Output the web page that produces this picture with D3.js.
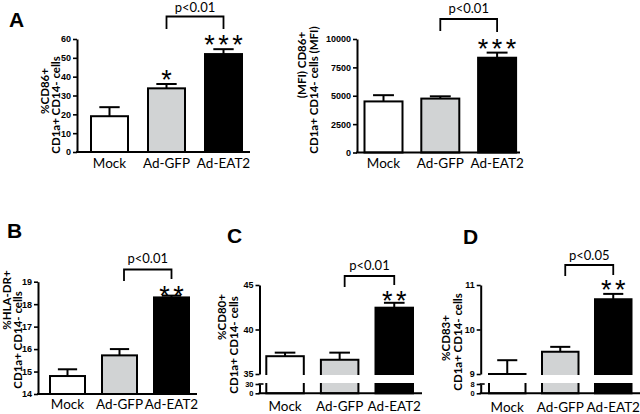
<!DOCTYPE html>
<html><head><meta charset="utf-8">
<script src="https://cdn.jsdelivr.net/npm/d3@7"></script>
<style>body{margin:0;background:#fff}</style>
</head><body><svg id="c" width="640" height="414" xmlns="http://www.w3.org/2000/svg"></svg>
<script>
// ---------- data ----------
const categories = ["Mock", "Ad-GFP", "Ad-EAT2"];
const cd86Pct = [19.0, 33.8, 52.0];
const cd86PctErr = [4.8, 2.3, 2.6];
const cd86Mfi = [4500, 4750, 8350];
const cd86MfiErr = [550, 200, 450];
const hlaDrPct = [14.8, 15.72, 18.3];
const hlaDrPctErr = [0.3, 0.28, 0.08];
const cd80Pct = [37.0, 36.6, 42.45];
const cd80PctErr = [0.4, 0.8, 0.55];
const cd83Pct = [9.0, 9.5, 10.68];
const cd83PctErr = [0.31, 0.11, 0.12];

const ticksCd86Pct = [0, 10, 20, 30, 40, 50, 60];
const ticksCd86Mfi = [0, 2500, 5000, 7500, 10000];
const ticksHlaDr = [14, 15, 16, 17, 18, 19];
const ticksCd80Upper = [35, 40, 45];
const ticksCd80Lower = [0, 30];
const ticksCd83Upper = [9, 10, 11];
const ticksCd83Lower = [0, 8];

const starsCd86Pct = ["", "*", "***"];
const starsCd86Mfi = ["", "", "***"];
const starsHlaDr = ["", "", "**"];
const starsCd80 = ["", "", "**"];
const starsCd83 = ["", "", "**"];

const pCd86Pct = "p<0.01";
const pCd86Mfi = "p<0.01";
const pHlaDr = "p<0.01";
const pCd80 = "p<0.01";
const pCd83 = "p<0.05";

const barColors = ["#ffffff", "#d1d3d4", "#000000"];

// ---------- layout ----------
const svg = d3.select("#c");
const CAT_FONT = "Lato, 'Open Sans', sans-serif";
const BOLD_FONT = "'Liberation Sans', Arial, sans-serif";

const panels = [
  { letter: "A", lx: 9, ly: 27,
    values: cd86Pct, errs: cd86PctErr, stars: starsCd86Pct, p: pCd86Pct, ticks: ticksCd86Pct,
    domain: [0, 60], yRange: [152, 39], axisX: 77, axisEnd: 250,
    barStart: 91, step: 57, bw: 37, catY: 168, starGap: 10,
    bracket: { y: 16.5, legL: 29, legR: 29, offL: 0, textBase: 12 },
    titles: [{ t: "%CD86+", x: 44, y: 91 }, { t: "CD1a+ CD14- cells", x: 55.5, y: 105 }] },
  { letter: null,
    values: cd86Mfi, errs: cd86MfiErr, stars: starsCd86Mfi, p: pCd86Mfi, ticks: ticksCd86Mfi,
    domain: [0, 10000], yRange: [152.5, 39], axisX: 357, axisEnd: 520,
    barStart: 364.5, step: 56.8, bw: 38, catY: 168, starGap: 10,
    bracket: { y: 19, legL: 31, legR: 32, offL: 0, textBase: 13 },
    titles: [{ t: "(MFI) CD86+", x: 301, y: 65 }, { t: "CD1a+ CD14- cells (MFI)", x: 313, y: 90 }] },
  { letter: "B", lx: 7, ly: 238,
    values: hlaDrPct, errs: hlaDrPctErr, stars: starsHlaDr, p: pHlaDr, ticks: ticksHlaDr,
    domain: [14, 19], yRange: [394, 281.7], axisX: 38, axisEnd: 197,
    barStart: 50, step: 52, bw: 35, catY: 409, starGap: 6,
    bracket: { y: 269.5, legL: 281, legR: 279, offL: 4.5, textBase: 263 },
    titles: [{ t: "%HLA-DR+", x: 6.5, y: 300 }, { t: "CD1a+ CD14- cells", x: 17.5, y: 340 }] },
  { letter: "C", lx: 227, ly: 243,
    values: cd80Pct, errs: cd80PctErr, stars: starsCd80, p: pCd80,
    broken: { upper: [35, 45], upperRange: [374, 285], lower: [0, 30], lowerRange: [393.3, 384],
              ticksU: ticksCd80Upper, ticksL: ticksCd80Lower, gap: [375, 383] },
    axisX: 259.5, axisEnd: 422,
    barStart: 266.3, step: 54.6, bw: 37.5, catY: 411, starGap: 8,
    bracket: { y: 276, legL: 287, legR: 285, offL: 5, textBase: 270 },
    titles: [{ t: "%CD80+", x: 221, y: 317 }, { t: "CD1a+ CD14- cells", x: 233, y: 345 }] },
  { letter: "D", lx: 463, ly: 244,
    values: cd83Pct, errs: cd83PctErr, stars: starsCd83, p: pCd83,
    broken: { upper: [9, 11], upperRange: [374, 285], lower: [0, 8], lowerRange: [393.3, 384],
              ticksU: ticksCd83Upper, ticksL: ticksCd83Lower, gap: [375, 383] },
    axisX: 480.7, axisEnd: 640,
    barStart: 489, step: 53, bw: 36.5, catY: 412, starGap: 10,
    bracket: { y: 265, legL: 276, legR: 275, offL: 5, textBase: 260 },
    titles: [{ t: "%CD83+", x: 445.5, y: 338 }, { t: "CD1a+ CD14- cells", x: 457.5, y: 342 }] }
];

function styleAxis(sel, fs) {
  sel.select(".domain").attr("stroke", "#000").attr("stroke-width", 2);
  sel.selectAll(".tick line").attr("stroke", "#000").attr("stroke-width", 1.6);
  sel.selectAll(".tick text").attr("font-family", BOLD_FONT).attr("font-weight", "bold")
     .attr("font-size", fs).attr("fill", "#000");
}

function drawPanel(cfg) {
  const g = svg.append("g");
  const n = categories.length;
  const pad = 1 - cfg.bw / cfg.step;
  const r0 = cfg.barStart - pad * cfg.step;
  const x = d3.scaleBand().domain(categories).range([r0, r0 + (n + pad) * cfg.step]).padding(pad);

  let yOf, baseY, yU, yL, y;
  if (cfg.broken) {
    const b = cfg.broken;
    yU = d3.scaleLinear().domain(b.upper).range(b.upperRange);
    yL = d3.scaleLinear().domain(b.lower).range(b.lowerRange);
    yOf = v => (v >= b.upper[0] ? yU(v) : yL(v));
    baseY = yL(0);
  } else {
    y = d3.scaleLinear().domain(cfg.domain).range(cfg.yRange);
    yOf = y;
    baseY = y(cfg.domain[0]);
  }

  const rows = categories.map((c, i) => ({ c, i, v: cfg.values[i], e: cfg.errs[i], s: cfg.stars[i] }));

  // bars
  g.selectAll("rect.bar").data(rows).join("rect").attr("class", "bar")
    .attr("x", d => x(d.c)).attr("width", x.bandwidth())
    .attr("y", d => yOf(d.v)).attr("height", d => baseY - yOf(d.v))
    .attr("fill", d => barColors[d.i]).attr("stroke", "#000").attr("stroke-width", 2);

  // axis break band
  if (cfg.broken) {
    const b = cfg.broken;
    g.append("rect").attr("x", x(categories[0]) - 3)
      .attr("width", x(categories[n - 1]) + x.bandwidth() - x(categories[0]) + 6)
      .attr("y", b.gap[0]).attr("height", b.gap[1] - b.gap[0]).attr("fill", "#fff");
  }

  // error bars
  const cap = x.bandwidth() * 0.55;
  const eb = g.selectAll("g.err").data(rows).join("g").attr("class", "err")
    .attr("stroke", "#000").attr("stroke-width", 2);
  eb.append("line")
    .attr("x1", d => x(d.c) + x.bandwidth() / 2).attr("x2", d => x(d.c) + x.bandwidth() / 2)
    .attr("y1", d => yOf(d.v)).attr("y2", d => yOf(d.v + d.e));
  eb.append("line")
    .attr("x1", d => x(d.c) + x.bandwidth() / 2 - cap / 2).attr("x2", d => x(d.c) + x.bandwidth() / 2 + cap / 2)
    .attr("y1", d => yOf(d.v + d.e)).attr("y2", d => yOf(d.v + d.e));

  // stars
  const SF = 27, LS = 3.5;
  g.selectAll("text.star").data(rows.filter(d => d.s)).join("text").attr("class", "star")
    .attr("x", d => x(d.c) + x.bandwidth() / 2 + LS / 2)
    .attr("y", d => yOf(d.v + d.e) - cfg.starGap + 0.56 * SF)
    .attr("text-anchor", "middle").attr("font-family", BOLD_FONT).attr("font-size", SF)
    .attr("letter-spacing", LS)
    .attr("fill", "#000").text(d => d.s);

  // y axis
  if (cfg.broken) {
    const b = cfg.broken;
    const au = g.append("g").attr("transform", `translate(${cfg.axisX},0)`)
      .call(d3.axisLeft(yU).tickValues(b.ticksU).tickSize(4).tickSizeOuter(0).tickPadding(2).tickFormat(d => String(d)));
    styleAxis(au, 9);
    const al = g.append("g").attr("transform", `translate(${cfg.axisX},0)`)
      .call(d3.axisLeft(yL).tickValues(b.ticksL).tickSize(4).tickSizeOuter(0).tickPadding(2).tickFormat(d => String(d)));
    styleAxis(al, 7.5);
    al.selectAll(".tick text").attr("dy", "0.34em");
    g.append("line").attr("x1", cfg.axisX - 1).attr("x2", cfg.axisX + 4)
      .attr("y1", yL(b.lower[1])).attr("y2", yL(b.lower[1])).attr("stroke", "#000").attr("stroke-width", 1.6);
  } else {
    const ay = g.append("g").attr("transform", `translate(${cfg.axisX},0)`)
      .call(d3.axisLeft(y).tickValues(cfg.ticks).tickSize(4).tickSizeOuter(0).tickPadding(2).tickFormat(d => String(d)));
    styleAxis(ay, 9);
  }

  // x axis line + category labels
  g.append("line").attr("x1", cfg.axisX - 1).attr("x2", cfg.axisEnd)
    .attr("y1", baseY).attr("y2", baseY).attr("stroke", "#000").attr("stroke-width", 2);
  const ax = g.append("g").attr("transform", `translate(0,${cfg.catY})`)
    .call(d3.axisBottom(x).tickSize(0).tickPadding(0));
  ax.select(".domain").remove();
  ax.selectAll(".tick text").attr("dy", 0).attr("y", 0)
    .attr("font-family", CAT_FONT).attr("font-size", 13.5).attr("fill", "#000");

  // significance bracket
  const br = cfg.bracket;
  const xl = x(categories[1]) + x.bandwidth() / 2 + br.offL;
  const xr = x(categories[2]) + x.bandwidth() / 2;
  g.append("path")
    .attr("d", `M${xl},${br.legL}V${br.y}H${xr}V${br.legR}`)
    .attr("fill", "none").attr("stroke", "#000").attr("stroke-width", 1.8);
  g.append("text").attr("x", (xl + xr) / 2).attr("y", br.textBase)
    .attr("text-anchor", "middle").attr("font-family", CAT_FONT).attr("font-size", 13)
    .attr("fill", "#000").text(cfg.p);

  // y titles
  cfg.titles.forEach(t => {
    g.append("text").attr("transform", `translate(${t.x},${t.y}) rotate(-90)`)
      .attr("text-anchor", "middle").attr("dominant-baseline", "central")
      .attr("font-family", CAT_FONT).attr("font-weight", "bold").attr("font-size", 11.5)
      .attr("fill", "#000").text(t.t);
  });

  // panel letter
  if (cfg.letter) {
    g.append("text").attr("x", cfg.lx).attr("y", cfg.ly)
      .attr("font-family", BOLD_FONT).attr("font-weight", "bold").attr("font-size", 21)
      .attr("fill", "#000").text(cfg.letter);
  }
}

panels.forEach(drawPanel);
</script>
</body></html>
